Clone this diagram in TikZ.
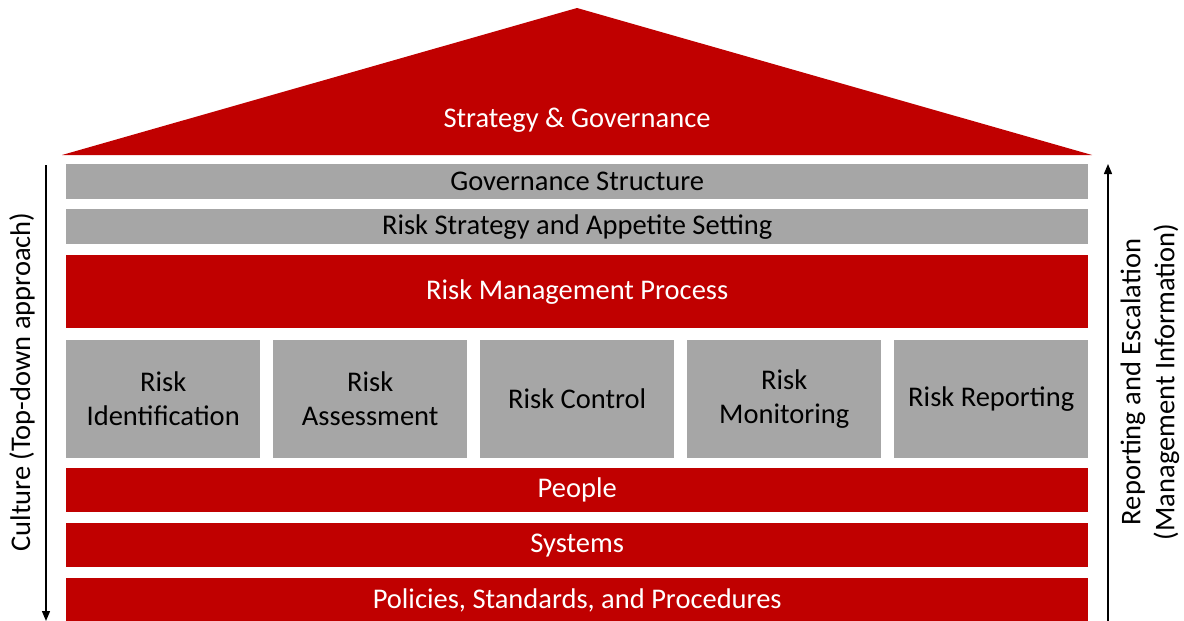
\documentclass[tikz,border=0pt]{standalone}
\usepackage{fontspec}
\setmainfont{Carlito}
\usetikzlibrary{arrows.meta}
\definecolor{riskred}{HTML}{C00000}
\definecolor{riskgray}{HTML}{A6A6A6}
\begin{document}
\begin{tikzpicture}[x=1pt,y=-1pt,
  lbl/.style={font=\fontsize{28.5}{34}\selectfont},
  bar/.style={lbl, anchor=north west, inner sep=0pt, minimum width=1022pt, align=center},
  redbar/.style={bar, fill=riskred, text=white},
  graybar/.style={bar, fill=riskgray, text=black},
  pillar/.style={lbl, anchor=north west, inner sep=0pt, minimum width=194pt,
    minimum height=118pt, fill=riskgray, text=black, align=center},
  axis/.style={line width=1.4pt, -{Triangle[width=8pt,length=10pt]}}]
\useasboundingbox (0,0) rectangle (1184,621);

% roof
\fill[riskred] (62,155) -- (577,8) -- (1092,155) -- cycle;
\node[lbl, text=white] (strategy) at (577,120) {Strategy \& Governance};

% horizontal layers
\node[graybar, minimum height=35pt] (govstruct) at (66,164) {Governance Structure};
\node[graybar, minimum height=35pt] (appetite) at (66,209) {Risk Strategy and Appetite Setting};
\node[redbar, minimum height=73pt] (process) at (66,255) {Risk Management Process};

% process steps
\node[pillar] (ident) at (66,340) {Risk\\Identification};
\node[pillar] (assess) at (273,340) {Risk\\Assessment};
\node[pillar] (control) at (480,340) {Risk Control};
\node[pillar] (monitor) at (687,340) {Risk\\Monitoring};
\node[pillar] (report) at (894,340) {Risk Reporting};

% foundations
\node[redbar, minimum height=44pt] (people) at (66,468) {People};
\node[redbar, minimum height=44pt] (systems) at (66,523) {Systems};
\node[redbar, minimum height=44pt] (policies) at (66,578) {Policies, Standards, and Procedures};

% side axes
\coordinate (cultop) at (46,165);
\coordinate (culbot) at (46,621);
\draw[axis] (cultop) -- (culbot);
\node[lbl, rotate=90] (culture) at (22,382) {Culture (Top-down approach)};

\coordinate (repbot) at (1108,621);
\coordinate (reptop) at (1108,164);
\draw[axis] (repbot) -- (reptop);
\node[lbl, rotate=90, align=center] (escalation) at (1150,382)
  {Reporting and Escalation\\(Management Information)};
\end{tikzpicture}
\end{document}
